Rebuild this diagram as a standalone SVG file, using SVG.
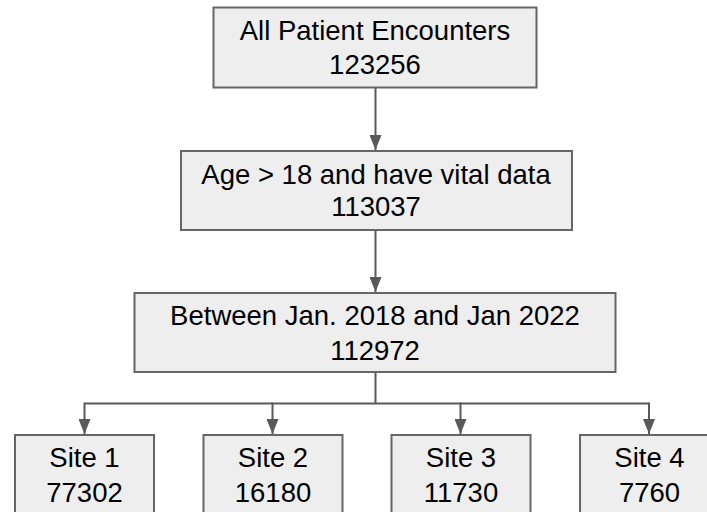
<svg xmlns="http://www.w3.org/2000/svg" width="707" height="512" viewBox="0 0 707 512">
<defs>
<style>
.box{fill:#eeeeee;stroke:#666666;stroke-width:2}
.t{font-family:"Liberation Sans",Arial,sans-serif;font-size:27.5px;fill:#000000;text-anchor:middle}
.c{fill:none;stroke:#595959;stroke-width:2}
</style>
<marker id="ah" markerWidth="15" markerHeight="12" refX="15" refY="6" viewBox="0 0 15 12" markerUnits="userSpaceOnUse" orient="auto">
<path d="M0,0 L15,6 L0,12 Z" fill="#595959"/>
</marker>
</defs>
<rect width="707" height="512" fill="#ffffff"/>
<g id="connectors">
<path class="c" d="M375.5,87 V150" marker-end="url(#ah)"/>
<path class="c" d="M375.5,230 V292" marker-end="url(#ah)"/>
<path class="c" d="M375.5,372 V403.5"/>
<path class="c" d="M84.5,403.5 H649"/>
<path class="c" d="M84.5,402.5 V434" marker-end="url(#ah)"/>
<path class="c" d="M272.5,402.5 V434" marker-end="url(#ah)"/>
<path class="c" d="M460.5,402.5 V434" marker-end="url(#ah)"/>
<path class="c" d="M649,402.5 V434" marker-end="url(#ah)"/>
</g>
<g id="n1">
<rect class="box" x="213.5" y="7.5" width="323" height="80"/>
<text class="t" x="375" y="39.5">All Patient Encounters</text>
<text class="t" x="375" y="74">123256</text>
</g>
<g id="n2">
<rect class="box" x="181" y="151" width="391" height="79"/>
<text class="t" x="376" y="183.5">Age &gt; 18 and have vital data</text>
<text class="t" x="376" y="216">113037</text>
</g>
<g id="n3">
<rect class="box" x="134.5" y="293" width="481" height="79"/>
<text class="t" x="375" y="325">Between Jan. 2018 and Jan 2022</text>
<text class="t" x="375" y="359.5">112972</text>
</g>
<g id="s1">
<rect class="box" x="15" y="435" width="139" height="90"/>
<text class="t" x="84.5" y="467">Site 1</text>
<text class="t" x="84.5" y="502">77302</text>
</g>
<g id="s2">
<rect class="box" x="203.5" y="435" width="139" height="90"/>
<text class="t" x="273" y="467">Site 2</text>
<text class="t" x="273" y="502">16180</text>
</g>
<g id="s3">
<rect class="box" x="391.5" y="435" width="139" height="90"/>
<text class="t" x="461" y="467">Site 3</text>
<text class="t" x="461" y="502">11730</text>
</g>
<g id="s4">
<rect class="box" x="580" y="435" width="139" height="90"/>
<text class="t" x="649.5" y="467">Site 4</text>
<text class="t" x="649.5" y="502">7760</text>
</g>
</svg>
